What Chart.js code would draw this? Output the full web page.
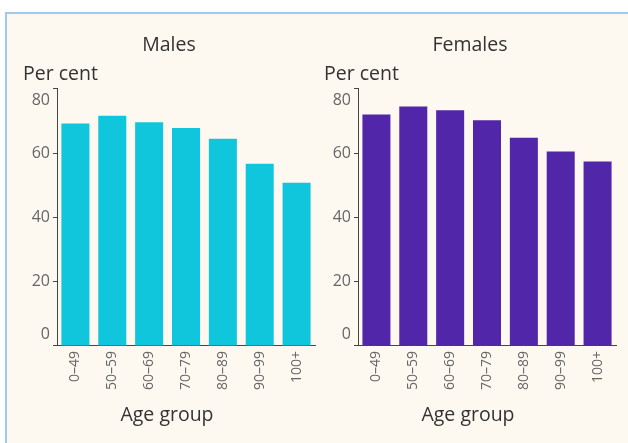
<!DOCTYPE html>
<html>
<head>
<meta charset="utf-8">
<script src="https://cdn.jsdelivr.net/npm/chart.js@4"></script>
<style>
  html, body { margin: 0; padding: 0; background: #fff; overflow: hidden; }
  body { width: 628px; height: 443px; position: relative; }
  .frame {
    position: absolute; left: 5px; top: 12px; right: -40px; bottom: -40px;
    border-left: 2px solid #9ccbec; border-top: 2px solid #9ccbec;
    background: #fdf8f0;
  }
  .box { position: absolute; top: 14px; width: 296px; height: 422px; }
</style>
</head>
<body>
<div class="frame"></div>
<div class="box" style="left:23px"><canvas id="malesChart"></canvas></div>
<div class="box" style="left:324px"><canvas id="femalesChart"></canvas></div>
<script>
// Data
const AGE_GROUPS = ["0\u201349", "50\u201359", "60\u201369", "70\u201379", "80\u201389", "90\u201399", "100+"];
const MALES = [69.2, 71.6, 69.6, 67.8, 64.5, 56.7, 50.8];
const FEMALES = [72.0, 74.5, 73.3, 70.2, 64.8, 60.5, 57.4];
const Y_TICKS = [0, 20, 40, 60, 80];
const Y_TITLE = "Per cent";
const X_TITLE = "Age group";

const FONT = '"Open Sans", "Noto Sans", sans-serif';
const AXIS_COLOR = '#454545';

// draws the "Age group" label under the rotated ticks
const ageGroupLabel = {
    id: 'ageGroupLabel',
    afterDraw(chart) {
        const ctx = chart.ctx;
        ctx.save();
        ctx.font = '19.5px ' + FONT;
        ctx.fillStyle = '#333';
        ctx.textAlign = 'center';
        ctx.textBaseline = 'middle';
        ctx.fillText(X_TITLE, chart.chartArea.right / 2 - 2, chart.scales.x.bottom + 20);
        ctx.restore();
    }
};

function makeChart(id, title, values, color) {
    const ctx = document.getElementById(id).getContext('2d');
    return new Chart(ctx, {
        type: 'bar',
        data: {
            labels: AGE_GROUPS,
            datasets: [{
                data: values,
                backgroundColor: color,
                borderWidth: 0,
                barPercentage: 0.76,
                categoryPercentage: 1
            }]
        },
        options: {
            responsive: true,
            maintainAspectRatio: false,
            animation: false,
            layout: { padding: { left: 0, right: 4, top: 0, bottom: 41 } },
            plugins: {
                legend: { display: false },
                tooltip: { enabled: false },
                title: {
                    display: true,
                    text: title,
                    color: '#333',
                    font: { family: FONT, size: 19.5, weight: 'normal' },
                    padding: { top: 20, bottom: 5 }
                },
                subtitle: {
                    display: true,
                    text: Y_TITLE,
                    align: 'start',
                    color: '#333',
                    font: { family: FONT, size: 19.5, weight: 'normal' },
                    padding: { top: 0, bottom: 3 }
                }
            },
            scales: {
                x: {
                    grid: { display: false, drawTicks: false },
                    border: { display: true, color: AXIS_COLOR, width: 1 },
                    ticks: {
                        minRotation: 90,
                        maxRotation: 90,
                        padding: 5,
                        color: '#666',
                        font: { family: FONT, size: 14 }
                    }
                },
                y: {
                    min: 0,
                    max: 80,
                    afterFit(scale) { scale.width = 34; },
                    afterBuildTicks(scale) { scale.ticks = Y_TICKS.map(v => ({ value: v })); },
                    grid: {
                        drawOnChartArea: false,
                        drawTicks: true,
                        tickLength: 4,
                        color: AXIS_COLOR
                    },
                    border: { display: true, color: AXIS_COLOR, width: 1 },
                    ticks: {
                        padding: 3,
                        color: '#666',
                        font: { family: FONT, size: 16, lineHeight: 1.4 },
                        // end labels sit inside the axis range
                        callback: v => v === 80 ? ['', String(v)] : (v === 0 ? [String(v), ''] : String(v))
                    }
                }
            }
        },
        plugins: [ageGroupLabel]
    });
}

makeChart('malesChart', 'Males', MALES, '#10c6dc');
makeChart('femalesChart', 'Females', FEMALES, '#5226a9');
</script>
</body>
</html>
